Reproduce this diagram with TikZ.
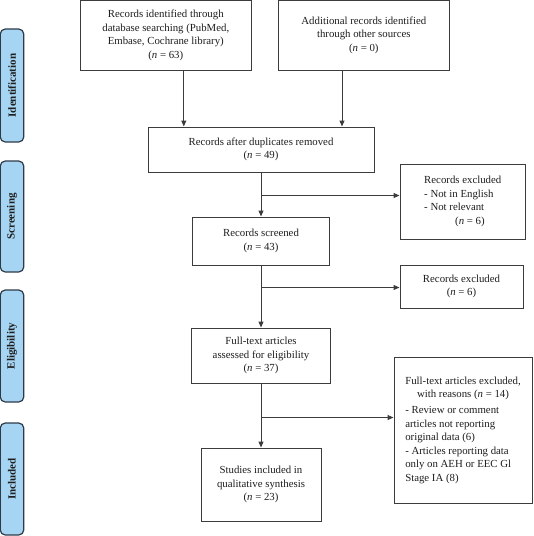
\documentclass[tikz,border=0pt]{standalone}
\usepackage{fontspec}
\setmainfont{Liberation Serif}
\usetikzlibrary{arrows.meta}
\definecolor{sidefill}{HTML}{A6D5F3}
\definecolor{sidedraw}{HTML}{2E3A48}
\definecolor{boxdraw}{HTML}{3C3C3C}
\definecolor{txt}{HTML}{1E1E1E}
\begin{document}
\begin{tikzpicture}[x=1pt,y=-1pt,
 box/.style={draw=boxdraw,line width=1pt,fill=white,align=center,inner sep=0pt,text=txt,font=\fontsize{10.8}{13.5}\selectfont},
 side/.style={draw=sidedraw,line width=1.2pt,fill=sidefill,rounded corners=5pt,rotate=90,minimum height=23.5pt,inner sep=0pt,font=\fontsize{11}{12}\selectfont\bfseries,text=txt},
 arr/.style={draw=boxdraw,line width=1pt,-{Triangle[length=6pt,width=5pt]}}]
\useasboundingbox (0,0) rectangle (534,536);
% side labels
\node[side,minimum width=113pt] (sid) at (12,85.5) {Identification};
\node[side,minimum width=111pt] (sscr) at (12,216.5) {Screening};
\node[side,minimum width=112pt] (selg) at (12,346) {Eligibility};
\node[side,minimum width=112pt] (sinc) at (12,479) {Included};
% boxes
\node[box,minimum width=170.4pt,minimum height=69.5pt] (rec) at (165.8,35.3) {Records identified through\\database searching (PubMed,\\Embase, Cochrane library)\\(\textit{n} = 63)};
\node[box,minimum width=170.4pt,minimum height=69.5pt] (add) at (363.8,35.3) {Additional records identified\\through other sources\\(\textit{n} = 0)};
\node[box,minimum width=226pt,minimum height=45pt] (dup) at (261,149.5) {Records after duplicates removed\\(\textit{n} = 49)};
\node[box,minimum width=125.5pt,minimum height=75pt] (ex1) at (462.75,201.5) {\begin{tabular}{@{}l@{}}\multicolumn{1}{@{}c@{}}{Records excluded}\\- Not in English\\- Not relevant\\\hspace{31pt}(\textit{n} = 6)\end{tabular}};
\node[box,minimum width=136.5pt,minimum height=48pt] (scr) at (261,241) {Records screened\\(\textit{n} = 43)};
\node[box,minimum width=123pt,minimum height=43pt] (ex2) at (461.5,286.5) {Records excluded\\(\textit{n} = 6)};
\node[box,minimum width=139.6pt,minimum height=55pt] (full) at (261,355.5) {Full-text articles\\assessed for eligibility\\(\textit{n} = 37)};
\node[box,minimum width=138pt,minimum height=146pt] (ex3) at (463,430) {\begin{tabular}{@{}l@{}}\multicolumn{1}{@{}c@{}}{Full-text articles excluded,}\\\multicolumn{1}{@{}c@{}}{with reasons (\textit{n} = 14)}\\[2.5pt]- Review or comment\\articles not reporting\\original data (6)\\- Articles reporting data\\only on AEH or EEC Gl\\Stage IA (8)\end{tabular}};
\node[box,minimum width=120pt,minimum height=73pt] (inc) at (261,484.5) {Studies included in\\qualitative synthesis\\(\textit{n} = 23)};
% connectors
\draw[arr] ([xshift=18pt]rec.south) -- ([xshift=18pt]rec.south |- dup.north);
\draw[arr] ([xshift=-21.8pt]add.south) -- ([xshift=-21.8pt]add.south |- dup.north);
\draw[arr] (dup.south) -- (scr.north);
\draw[arr] (scr.south) -- (full.north);
\draw[arr] (full.south) -- (inc.north);
\path (dup.south) ++(0,23) coordinate (b1);
\path (scr.south) ++(0,22) coordinate (b2);
\path (full.south) ++(0,34) coordinate (b3);
\draw[arr] (b1) -- (b1 -| ex1.west);
\draw[arr] (b2) -- (b2 -| ex2.west);
\draw[arr] (b3) -- (b3 -| ex3.west);
\end{tikzpicture}
\end{document}
